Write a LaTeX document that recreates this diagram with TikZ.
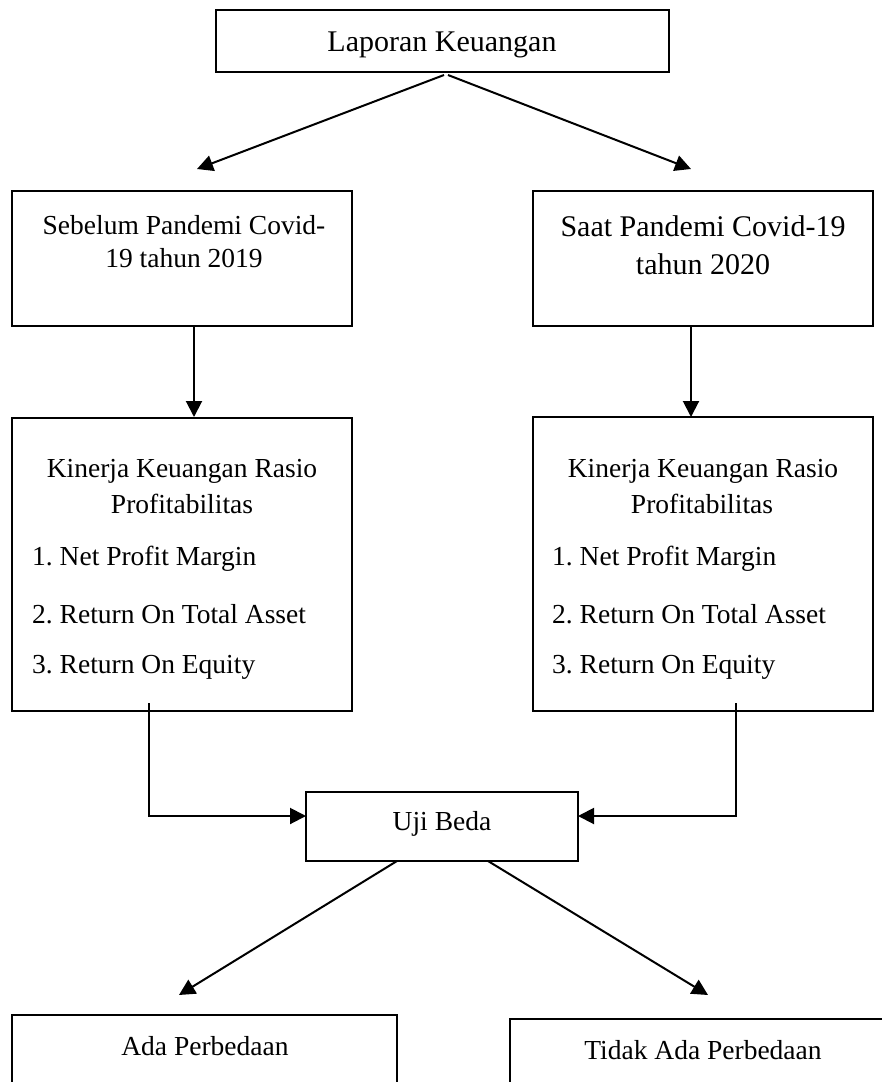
\documentclass[tikz,border=0pt]{standalone}
\usepackage{fontspec}
\setmainfont{Liberation Serif}
\frenchspacing
\usetikzlibrary{arrows.meta}
\tikzset{
  box/.style={draw, line width=1.4pt, inner sep=0pt, outer sep=0pt},
  lbl/.style={inner sep=0pt, font=\fontsize{27.5}{33}\selectfont},
  lblbig/.style={inner sep=0pt, font=\fontsize{30}{38}\selectfont},
  conn/.style={line width=2pt, -{Triangle[length=16pt,width=16pt]}},
}
\begin{document}
\begin{tikzpicture}[x=1pt,y=-1pt]
\useasboundingbox (0,0) rectangle (882,1082);
% boxes
\node[box, minimum width=453pt, minimum height=62pt] (lap) at (442.5,41) {};
\node[box, minimum width=340pt, minimum height=135pt] (sb) at (182,258.5) {};
\node[box, minimum width=340pt, minimum height=135pt] (sp) at (703,258.5) {};
\node[box, minimum width=340pt, minimum height=293pt] (kl) at (182,564.5) {};
\node[box, minimum width=340pt, minimum height=294pt] (kr) at (703,564) {};
\node[box, minimum width=272pt, minimum height=69pt] (uji) at (442,826.5) {};
\node[box, minimum width=385pt, minimum height=68pt] (ada) at (204.5,1049) {};
\node[box, minimum width=374pt, minimum height=65pt] (tidak) at (697,1051.5) {};
% texts
\node[lblbig] (tlap) at (442,45) {Laporan Keuangan};
\node[lbl, align=center] (tsb) at (184,242) {Sebelum Pandemi Covid-\\19 tahun 2019};
\node[lblbig, align=center] (tsp) at (703,245) {Saat Pandemi Covid-19\\tahun 2020};
\node[lbl] (kl1) at (182,471) {Kinerja Keuangan Rasio};
\node[lbl] (kl2) at (182,504) {Profitabilitas};
\node[lbl, anchor=west] (kl3) at (32,559) {1. Net Profit Margin};
\node[lbl, anchor=west] (kl4) at (32,614) {2. Return On Total Asset};
\node[lbl, anchor=west] (kl5) at (32,667) {3. Return On Equity};
\node[lbl] (kr1) at (703,471) {Kinerja Keuangan Rasio};
\node[lbl] (kr2) at (702,504) {Profitabilitas};
\node[lbl, anchor=west] (kr3) at (552,559) {1. Net Profit Margin};
\node[lbl, anchor=west] (kr4) at (552,614) {2. Return On Total Asset};
\node[lbl, anchor=west] (kr5) at (552,667) {3. Return On Equity};
\node[lbl] (tuji) at (442,824) {Uji Beda};
\node[lbl] (tada) at (205,1046) {Ada Perbedaan};
\node[lbl] (ttidak) at (703,1050) {Tidak Ada Perbedaan};
% connector end points
\coordinate (a1) at (444,75);
\coordinate (a2) at (197,169);
\coordinate (b1) at (448,75);
\coordinate (b2) at (691,169);
\coordinate (c1) at (194,326);
\coordinate (c2) at (194,417);
\coordinate (d1) at (691,326);
\coordinate (d2) at (691,417);
\coordinate (e1) at (148.5,703);
\coordinate (e2) at (306,816);
\coordinate (f1) at (736,703);
\coordinate (f2) at (578,816);
\coordinate (g1) at (397,861);
\coordinate (g2) at (179,995);
\coordinate (h1) at (488,861);
\coordinate (h2) at (708,995);
% connectors
\draw[conn] (a1) -- (a2);
\draw[conn] (b1) -- (b2);
\draw[conn] (c1) -- (c2);
\draw[conn] (d1) -- (d2);
\draw[conn] (e1) |- (e2);
\draw[conn] (f1) |- (f2);
\draw[conn] (g1) -- (g2);
\draw[conn] (h1) -- (h2);
\end{tikzpicture}
\end{document}
